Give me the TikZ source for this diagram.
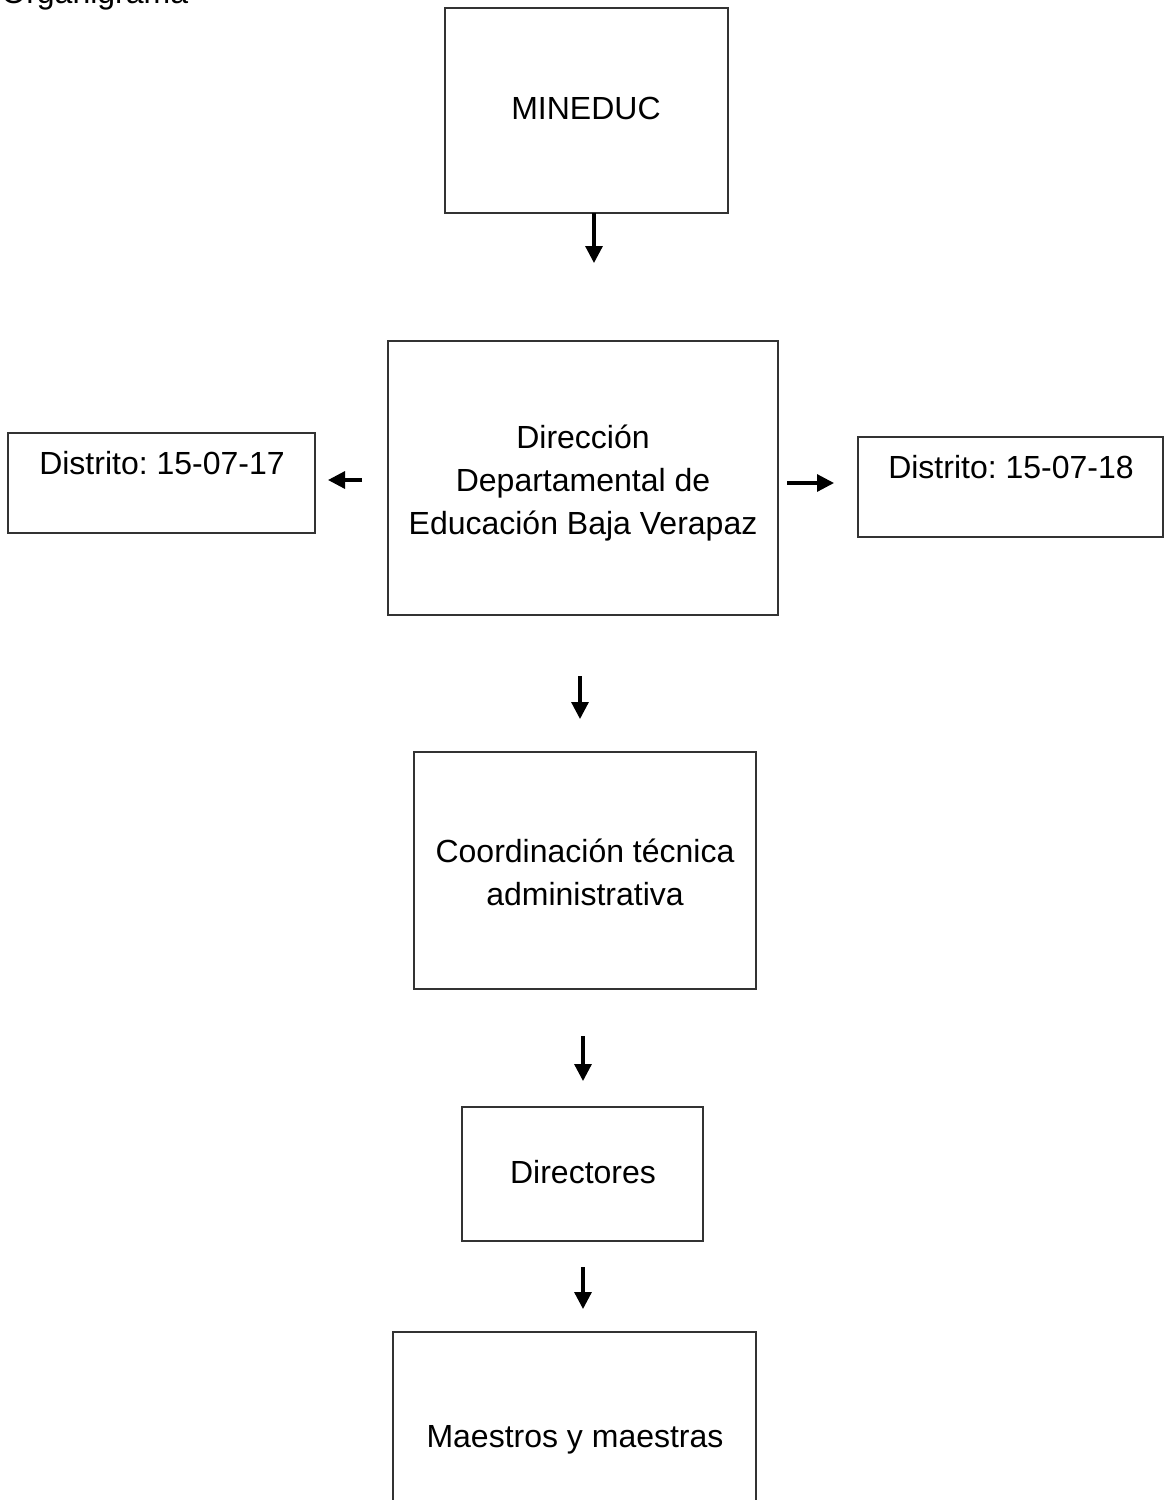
\documentclass[tikz,border=0pt]{standalone}
\usepackage{fontspec}
\setmainfont{Liberation Sans}
\frenchspacing
\usetikzlibrary{arrows.meta,fit}
\tikzset{
  box/.style={draw=black!80, line width=0.7pt, inner sep=0pt, fill=none},
  txt/.style={align=center, inner sep=0pt, font=\fontsize{16pt}{21.5pt}\selectfont},
  arr/.style={line width=1.6pt, -{Triangle[length=8.5pt,width=8.5pt]}}
}
\begin{document}
\begin{tikzpicture}[x=0.5pt,y=-0.5pt]
\useasboundingbox (0,0) rectangle (1167,1500);
\clip (0,0) rectangle (1167,1500);
% title (cut off at the top edge, as in the reference)
\node[txt, anchor=base west] (title) at (1,3) {Organigrama};
% boxes
\node[box, fit={(445,8) (728,213)}] (min) {};
\node[txt] (mint) at (586,108) {MINEDUC};
\node[box, fit={(388,341) (778,615)}] (dir) {};
\node[txt] (dirt) at (583,483) {Dirección\\Departamental de\\Educación Baja Verapaz};
\node[box, fit={(8,433) (315,533)}] (d17) {};
\node[txt] (d17t) at (162,463) {Distrito: 15-07-17};
\node[box, fit={(858,437) (1163,537)}] (d18) {};
\node[txt] (d18t) at (1011,467) {Distrito: 15-07-18};
\node[box, fit={(414,752) (756,989)}] (coo) {};
\node[txt] (coot) at (585,872) {Coordinación técnica\\administrativa};
\node[box, fit={(462,1107) (703,1241)}] (dirs) {};
\node[txt] (dirst) at (583,1172) {Directores};
\node[box, fit={(393,1332) (756,1560)}] (mae) {};
\node[txt] (maet) at (575,1440) {Maestros y maestras};
% arrows
\coordinate (a1s) at (594,213); \coordinate (a1e) at (594,263);
\draw[arr] (a1s) -- (a1e);
\coordinate (a2s) at (362,480); \coordinate (a2e) at (328,480);
\draw[arr] (a2s) -- (a2e);
\coordinate (a3s) at (787,483); \coordinate (a3e) at (834,483);
\draw[arr] (a3s) -- (a3e);
\coordinate (a4s) at (580,676); \coordinate (a4e) at (580,719);
\draw[arr] (a4s) -- (a4e);
\coordinate (a5s) at (583,1036); \coordinate (a5e) at (583,1081);
\draw[arr] (a5s) -- (a5e);
\coordinate (a6s) at (583,1267); \coordinate (a6e) at (583,1309);
\draw[arr] (a6s) -- (a6e);
\end{tikzpicture}
\end{document}
